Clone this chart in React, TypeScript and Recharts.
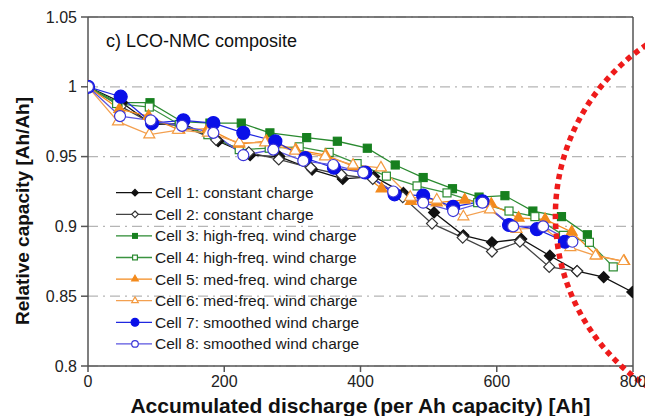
import React from 'react';
import { LineChart, Line, XAxis, YAxis, CartesianGrid, ReferenceLine, ReferenceDot, Label } from 'recharts';

const cell1X = [0, 50, 94, 140, 191, 238, 281, 329, 374, 420, 463, 508, 551, 593, 636, 678, 718, 757, 799];
const cell1Y = [1, 0.9886, 0.973, 0.9736, 0.961, 0.951, 0.95, 0.9407, 0.934, 0.9357, 0.924, 0.91, 0.8936, 0.8886, 0.891, 0.879, 0.868, 0.8636, 0.853];
const cell2X = [0, 48, 93, 138, 188, 236, 280, 327, 372, 418, 462, 505, 550, 593, 634, 677, 718];
const cell2Y = [1, 0.986, 0.974, 0.972, 0.962, 0.953, 0.948, 0.942, 0.937, 0.934, 0.921, 0.902, 0.892, 0.882, 0.889, 0.871, 0.868];
const cell3X = [0, 44, 91, 138, 179, 225, 267, 321, 366, 410, 451, 492, 535, 574, 612, 653, 695, 733];
const cell3Y = [1, 0.9886, 0.9886, 0.975, 0.974, 0.974, 0.967, 0.9636, 0.961, 0.956, 0.944, 0.935, 0.927, 0.921, 0.922, 0.911, 0.907, 0.894];
const cell4X = [0, 42, 90, 134, 176, 222, 266, 310, 354, 395, 438, 483, 527, 572, 618, 656, 698, 736, 771];
const cell4Y = [1, 0.988, 0.9855, 0.973, 0.9657, 0.955, 0.956, 0.957, 0.953, 0.945, 0.936, 0.929, 0.924, 0.917, 0.911, 0.907, 0.8936, 0.8886, 0.871];
const cell5X = [0, 46, 89, 134, 176, 222, 262, 305, 349, 390, 431, 474, 512, 553, 592, 632, 671, 710, 747, 787];
const cell5Y = [1, 0.984, 0.979, 0.969, 0.97, 0.959, 0.961, 0.955, 0.951, 0.943, 0.927, 0.918, 0.917, 0.919, 0.916, 0.906, 0.905, 0.896, 0.879, 0.875];
const cell6X = [0, 44, 90, 132, 176, 222, 260, 304, 348, 389, 430, 473, 512, 551, 590, 629, 668, 708, 745, 786];
const cell6Y = [1, 0.975, 0.9657, 0.969, 0.967, 0.96, 0.96, 0.954, 0.95, 0.944, 0.942, 0.921, 0.919, 0.907, 0.912, 0.898, 0.899, 0.885, 0.879, 0.875];
const cell7X = [0, 48, 94, 140, 184, 228, 275, 319, 361, 407, 450, 492, 536, 579, 618, 659, 700];
const cell7Y = [1, 0.9929, 0.974, 0.976, 0.974, 0.967, 0.961, 0.949, 0.942, 0.9386, 0.923, 0.922, 0.914, 0.918, 0.901, 0.898, 0.889];
const cell8X = [0, 47, 92, 138, 184, 228, 272, 316, 360, 404, 448, 492, 536, 579, 624, 668, 711];
const cell8Y = [1, 0.979, 0.976, 0.972, 0.967, 0.951, 0.955, 0.947, 0.944, 0.9386, 0.925, 0.917, 0.911, 0.917, 0.9, 0.9, 0.889];

const seriesNames = [
  'Cell 1: constant charge',
  'Cell 2: constant charge',
  'Cell 3: high-freq. wind charge',
  'Cell 4: high-freq. wind charge',
  'Cell 5: med-freq. wind charge',
  'Cell 6: med-freq. wind charge',
  'Cell 7: smoothed wind charge',
  'Cell 8: smoothed wind charge',
];

const xTicks = [0, 200, 400, 600, 800];
const yTicks = [0.8, 0.85, 0.9, 0.95, 1, 1.05];

const zip = (xs: number[], ys: number[]) => xs.map((x, i) => ({ x, y: ys[i] }));

type Shape = 'diamond' | 'square' | 'triangle' | 'circle';

const series = [
  { name: seriesNames[0], data: zip(cell1X, cell1Y), color: '#111111', line: '#111111', shape: 'diamond' as Shape, filled: true, size: 5.5 },
  { name: seriesNames[1], data: zip(cell2X, cell2Y), color: '#333333', line: '#444444', shape: 'diamond' as Shape, filled: false, size: 5.5 },
  { name: seriesNames[2], data: zip(cell3X, cell3Y), color: '#17801f', line: '#2a8a30', shape: 'square' as Shape, filled: true, size: 8 },
  { name: seriesNames[3], data: zip(cell4X, cell4Y), color: '#2a8a30', line: '#3a9340', shape: 'square' as Shape, filled: false, size: 8 },
  { name: seriesNames[4], data: zip(cell5X, cell5Y), color: '#f38a1c', line: '#f38a1c', shape: 'triangle' as Shape, filled: true, size: 11 },
  { name: seriesNames[5], data: zip(cell6X, cell6Y), color: '#f39a40', line: '#f3a050', shape: 'triangle' as Shape, filled: false, size: 11 },
  { name: seriesNames[6], data: zip(cell7X, cell7Y), color: '#0a10e8', line: '#2028e0', shape: 'circle' as Shape, filled: true, size: 6.5 },
  { name: seriesNames[7], data: zip(cell8X, cell8Y), color: '#3a34d8', line: '#5a55e0', shape: 'circle' as Shape, filled: false, size: 5.5 },
];

function markerEl(shape: Shape, cx: number, cy: number, size: number, color: string, filled: boolean, key?: any) {
  const fill = filled ? color : '#ffffff';
  const sw = 1.2;
  if (shape === 'diamond') {
    const r = size;
    return <path key={key} d={`M${cx},${cy - r}L${cx + r},${cy}L${cx},${cy + r}L${cx - r},${cy}Z`} fill={fill} stroke={color} strokeWidth={sw} />;
  }
  if (shape === 'square') {
    return <rect key={key} x={cx - size / 2} y={cy - size / 2} width={size} height={size} fill={fill} stroke={color} strokeWidth={sw} />;
  }
  if (shape === 'triangle') {
    const h = size * 0.87;
    return <path key={key} d={`M${cx},${cy - (h * 2) / 3}L${cx + size / 2},${cy + h / 3}L${cx - size / 2},${cy + h / 3}Z`} fill={fill} stroke={color} strokeWidth={sw} />;
  }
  return <circle key={key} cx={cx} cy={cy} r={size} fill={fill} stroke={color} strokeWidth={sw} />;
}

const FONT = '"Liberation Sans", Arial, sans-serif';

const LegendBox = () => (
  <svg width={280} height={180} style={{ display: 'block' }}>
    {series.map((s, i) => {
      const y = 12.7 + i * 21.6;
      return (
        <g key={i}>
          <line x1={8} x2={44} y1={y} y2={y} stroke={s.line} strokeWidth={1.3} />
          {markerEl(s.shape, 27, y, s.size * 0.6, s.color, s.filled)}
          <text x={47} y={y} dominantBaseline="central" fontFamily={FONT} fontSize={15.5} fill="#1a1a1a">
            {s.name}
          </text>
        </g>
      );
    })}
  </svg>
);

export default function App() {
  return (
    <div style={{ position: 'absolute', left: 0, top: 0, width: 645, height: 416, background: '#fff', overflow: 'hidden' }}>
      <LineChart width={645} height={416} margin={{ top: 17, right: 12, left: 0, bottom: 0 }}>
        <CartesianGrid vertical={false} stroke="#b5b5b5" strokeDasharray="10 5 2 5" strokeWidth={1.2} />
        <XAxis
          type="number"
          dataKey="x"
          domain={[0, 800]}
          ticks={xTicks}
          height={50}
          stroke="#555"
          strokeWidth={1.5}
          tickSize={6}
          tickMargin={4}
          tick={{ fontSize: 16, fill: '#222', fontFamily: FONT }}
          allowDataOverflow
        >
          <Label
            value="Accumulated discharge (per Ah capacity) [Ah]"
            position="insideBottom"
            offset={3}
            style={{ fontSize: 21, fontWeight: 'bold', fill: '#111', fontFamily: FONT }}
          />
        </XAxis>
        <YAxis
          type="number"
          dataKey="y"
          domain={[0.8, 1.05]}
          ticks={yTicks}
          width={88}
          stroke="#555"
          strokeWidth={1.5}
          tickSize={7}
          tickMargin={4}
          tickFormatter={(v: number) => (v === 1 ? '1' : String(v))}
          tick={{ fontSize: 16, fill: '#222', fontFamily: FONT }}
          allowDataOverflow
        >
          <Label
            content={() => (
              <text
                x={22}
                y={211}
                transform="rotate(-90 22 211)"
                textAnchor="middle"
                dominantBaseline="central"
                fontFamily={FONT}
                fontSize={19}
                fontWeight="bold"
                fill="#111"
              >
                Relative capacity [Ah/Ah]
              </text>
            )}
          />
        </YAxis>
        <ReferenceLine y={1.05} stroke="#555" strokeWidth={1.5} />
        <ReferenceLine x={800} stroke="#555" strokeWidth={1.5} />
        {series.map((s, i) => (
          <Line
            key={i}
            data={s.data}
            dataKey="y"
            name={s.name}
            stroke={s.line}
            strokeWidth={1.3}
            isAnimationActive={false}
            legendType="none"
            dot={(p: any) => markerEl(s.shape, p.cx, p.cy, s.size, s.color, s.filled, p.key ?? `${i}-${p.index}`)}
            activeDot={false}
          />
        ))}
        <ReferenceDot
          x={987}
          y={0.9079}
          ifOverflow="visible"
          shape={(p: any) => (
            <circle cx={p.cx} cy={p.cy} r={205} fill="none" stroke="#ee1b1b" strokeWidth={5.5} strokeDasharray="5.5 4.5" />
          )}
        />
      </LineChart>
      <div style={{ position: 'absolute', left: 108, top: 180 }}>
        <LegendBox />
      </div>
      <div
        style={{
          position: 'absolute',
          left: 106,
          top: 31,
          fontFamily: FONT,
          fontSize: 18,
          color: '#111',
          lineHeight: '20px',
          whiteSpace: 'nowrap',
        }}
      >
        c) LCO-NMC composite
      </div>
    </div>
  );
}
